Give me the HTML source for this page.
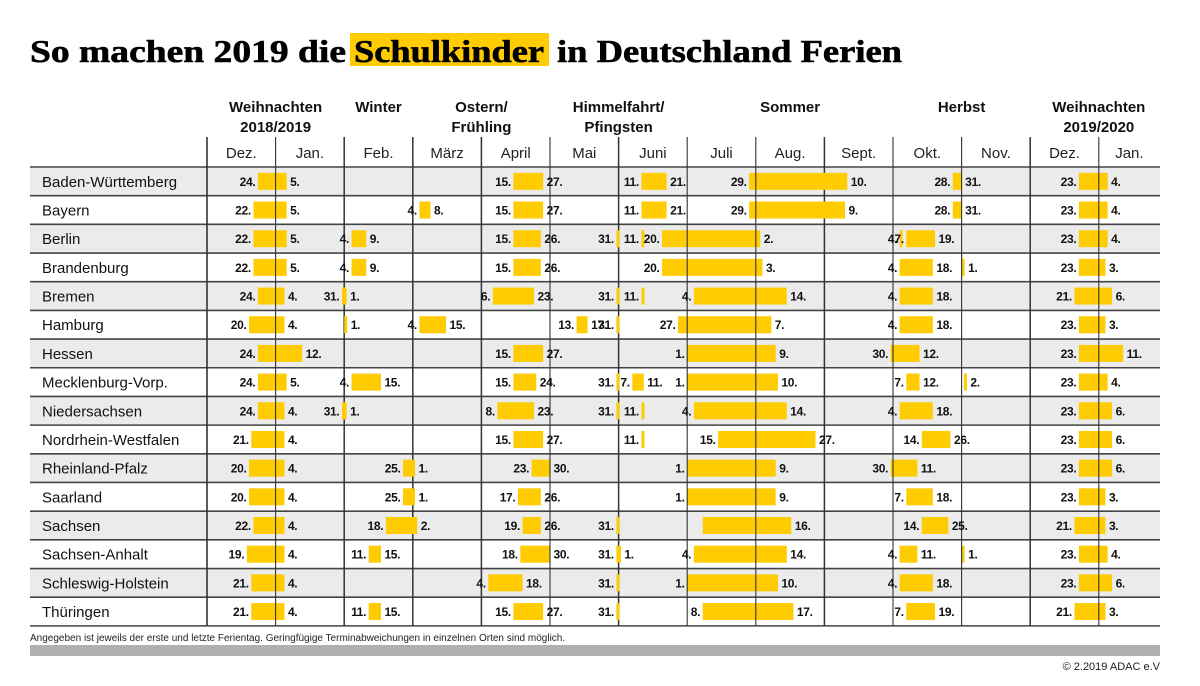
<!DOCTYPE html>
<html><head><meta charset="utf-8"><title>Schulferien 2019</title>
<style>
html,body{margin:0;padding:0;background:#fff;}
svg{display:block;}
</style></head>
<body>
<svg id="chart" width="1200" height="686" viewBox="0 0 1200 686" xmlns="http://www.w3.org/2000/svg" font-family="Liberation Sans, sans-serif">
  <rect x="350" y="33" width="199" height="33" fill="#fecc00"/>
  <text x="30" y="62" font-family="Liberation Serif, serif" font-weight="bold" font-size="32" stroke="#000" stroke-width="0.6" textLength="316" lengthAdjust="spacingAndGlyphs">So machen 2019 die</text>
  <text x="354" y="62" font-family="Liberation Serif, serif" font-weight="bold" font-size="32" stroke="#000" stroke-width="0.6" textLength="190" lengthAdjust="spacingAndGlyphs">Schulkinder</text>
  <text x="557" y="62" font-family="Liberation Serif, serif" font-weight="bold" font-size="32" stroke="#000" stroke-width="0.6" textLength="345" lengthAdjust="spacingAndGlyphs">in Deutschland Ferien</text>
  <g id="grid"></g>
  <g id="bars"></g>
  <g id="overlay"></g>
  <text x="30" y="641" font-size="10" fill="#222">Angegeben ist jeweils der erste und letzte Ferientag. Geringfügige Terminabweichungen in einzelnen Orten sind möglich.</text>
  <rect x="30" y="645" width="1130" height="11" fill="#b0b0b0"/>
  <text x="1160" y="670" font-size="11" fill="#222" text-anchor="end">© 2.2019 ADAC e.V</text>
</svg>
<script>
const months = ["Dez.","Jan.","Feb.","März","April","Mai","Juni","Juli","Aug.","Sept.","Okt.","Nov.","Dez.","Jan."];
const monthDays = [31,31,28,31,30,31,30,31,31,30,31,30,31,31];
const groupLabels = [["Weihnachten","2018/2019"],["Winter"],["Ostern/","Frühling"],["Himmelfahrt/","Pfingsten"],["Sommer"],["Herbst"],["Weihnachten","2019/2020"]];
const groupCenters = [1,2.5,4,6,8.5,11,13];
const states = ["Baden-Württemberg","Bayern","Berlin","Brandenburg","Bremen","Hamburg","Hessen","Mecklenburg-Vorp.","Niedersachsen","Nordrhein-Westfalen","Rheinland-Pfalz","Saarland","Sachsen","Sachsen-Anhalt","Schleswig-Holstein","Thüringen"];
// [startMonth, startDay, endMonth, endDay, labels] labels: "LR" both, "L" start only, "R" end only
const bw = [[0,24,1,5,"LR"],[4,15,4,27,"LR"],[6,11,6,21,"LR"],[7,29,9,10,"LR"],[10,28,10,31,"LR"],[12,23,13,4,"LR"]];
const by = [[0,22,1,5,"LR"],[3,4,3,8,"LR"],[4,15,4,27,"LR"],[6,11,6,21,"LR"],[7,29,9,9,"LR"],[10,28,10,31,"LR"],[12,23,13,4,"LR"]];
const be = [[0,22,1,5,"LR"],[2,4,2,9,"LR"],[4,15,4,26,"LR"],[5,31,5,31,"L"],[6,11,6,11,"L"],[6,20,8,2,"LR"],[10,4,10,4,"L"],[10,7,10,19,"LR"],[12,23,13,4,"LR"]];
const bb = [[0,22,1,5,"LR"],[2,4,2,9,"LR"],[4,15,4,26,"LR"],[6,20,8,3,"LR"],[10,4,10,18,"LR"],[11,1,11,1,"R"],[12,23,13,3,"LR"]];
const hb = [[0,24,1,4,"LR"],[1,31,2,1,"LR"],[4,6,4,23,"LR"],[5,31,5,31,"L"],[6,11,6,11,"L"],[7,4,8,14,"LR"],[10,4,10,18,"LR"],[12,21,13,6,"LR"]];
const hh = [[0,20,1,4,"LR"],[2,1,2,1,"R"],[3,4,3,15,"LR"],[5,13,5,17,"LR"],[5,31,5,31,"L"],[6,27,8,7,"LR"],[10,4,10,18,"LR"],[12,23,13,3,"LR"]];
const he = [[0,24,1,12,"LR"],[4,15,4,27,"LR"],[7,1,8,9,"LR"],[9,30,10,12,"LR"],[12,23,13,11,"LR"]];
const mv = [[0,24,1,5,"LR"],[2,4,2,15,"LR"],[4,15,4,24,"LR"],[5,31,5,31,"L"],[6,7,6,11,"LR"],[7,1,8,10,"LR"],[10,7,10,12,"LR"],[11,2,11,2,"R"],[12,23,13,4,"LR"]];
const ni = [[0,24,1,4,"LR"],[1,31,2,1,"LR"],[4,8,4,23,"LR"],[5,31,5,31,"L"],[6,11,6,11,"L"],[7,4,8,14,"LR"],[10,4,10,18,"LR"],[12,23,13,6,"LR"]];
const nw = [[0,21,1,4,"LR"],[4,15,4,27,"LR"],[6,11,6,11,"L"],[7,15,8,27,"LR"],[10,14,10,26,"LR"],[12,23,13,6,"LR"]];
const rp = [[0,20,1,4,"LR"],[2,25,3,1,"LR"],[4,23,4,30,"LR"],[7,1,8,9,"LR"],[9,30,10,11,"LR"],[12,23,13,6,"LR"]];
const sl = [[0,20,1,4,"LR"],[2,25,3,1,"LR"],[4,17,4,26,"LR"],[7,1,8,9,"LR"],[10,7,10,18,"LR"],[12,23,13,3,"LR"]];
const sn = [[0,22,1,4,"LR"],[2,18,3,2,"LR"],[4,19,4,26,"LR"],[5,31,5,31,"L"],[7,8,8,16,"R"],[10,14,10,25,"LR"],[12,21,13,3,"LR"]];
const st = [[0,19,1,4,"LR"],[2,11,2,15,"LR"],[4,18,4,30,"LR"],[5,31,6,1,"LR"],[7,4,8,14,"LR"],[10,4,10,11,"LR"],[11,1,11,1,"R"],[12,23,13,4,"LR"]];
const sh = [[0,21,1,4,"LR"],[4,4,4,18,"LR"],[5,31,5,31,"L"],[7,1,8,10,"LR"],[10,4,10,18,"LR"],[12,23,13,6,"LR"]];
const th = [[0,21,1,4,"LR"],[2,11,2,15,"LR"],[4,15,4,27,"LR"],[5,31,5,31,"L"],[7,8,8,17,"LR"],[10,7,10,19,"LR"],[12,21,13,3,"LR"]];
const holidays = [bw,by,be,bb,hb,hh,he,mv,ni,nw,rp,sl,sn,st,sh,th];
const majorLines = [0,2,3,4,6,9,12];

const NS = "http://www.w3.org/2000/svg";
const X0 = 207, MW = 68.6, XEND = 1160, TL = 30;
const ROW0 = 167, RH = 28.68;
function monthX(m){ return X0 + m*MW; }
function dateX(m, d, endOfDay){ return monthX(m) + (endOfDay ? d : d-1)/monthDays[m]*MW; }
function rowY(i){ return ROW0 + i*RH; }
function mk(tag, attrs, parent, txt){
  const e = document.createElementNS(NS, tag);
  for (const k in attrs) e.setAttribute(k, attrs[k]);
  if (txt !== undefined) e.textContent = txt;
  parent.appendChild(e); return e;
}
const grid = document.getElementById('grid');
const bars = document.getElementById('bars');
const overlay = document.getElementById('overlay');

groupLabels.forEach((g, i) => {
  const cx = X0 + groupCenters[i]*MW;
  g.forEach((line, j) => {
    const t = mk('text', {x: cx, y: 112 + j*20, 'text-anchor': 'middle', 'font-weight': 'bold', 'font-size': 15, fill: '#111'}, grid, line);
    
    
  });
});
months.forEach((m, i) => {
  const cx = i < 13 ? monthX(i) + MW/2 : (monthX(13) + XEND)/2;
  const t = mk('text', {x: cx, y: 158, 'text-anchor': 'middle', 'font-size': 15, fill: '#222'}, grid, m);
  
  
});
states.forEach((s, i) => {
  const y = rowY(i);
  if (i % 2 === 0) {
    const r = mk('rect', {x: TL, y: y, width: XEND-TL, height: RH, fill: '#ebebeb'}, grid);
    
    
  }
  const t = mk('text', {x: 42, y: y + RH/2 + 5.5, 'font-size': 15, fill: '#111'}, grid, s);
  
  
});
for (let i = 0; i <= states.length; i++) {
  const y = rowY(i);
  const l = mk('line', {x1: TL, x2: XEND, y1: y, y2: y, stroke: '#444', 'stroke-width': 1.6}, grid);
  
  
}
const bottom = rowY(states.length);
const lx = mk('line', {x1: X0, x2: X0, y1: 137, y2: bottom, stroke: '#333', 'stroke-width': 1.6}, grid);


for (let m = 1; m < 14; m++) {
  const x = monthX(m);
  const major = majorLines.includes(m);
  const l = mk('line', {x1: x, x2: x, y1: 137, y2: bottom, stroke: '#333', 'stroke-width': major ? 1.5 : 1.1}, major ? grid : overlay);
  
  
}
holidays.forEach((list, i) => {
  const cy = rowY(i) + RH/2;
  list.forEach(h => {
    const x1 = dateX(h[0], h[1], false);
    let x2 = dateX(h[2], h[3], true);
    if (x2 - x1 < 3) x2 = x1 + 3;
    const b = mk('rect', {x: x1, y: cy - 8.5, width: x2 - x1, height: 17, fill: '#fecc00'}, bars);
    
    
    if (h[4].includes('L')) {
      const t = mk('text', {x: x1 - 2.5, y: cy + 4.5, 'text-anchor': 'end', 'font-weight': 'bold', 'font-size': 12, 'letter-spacing': -0.3, fill: '#111'}, overlay, h[1] + '.');
      
      
    }
    if (h[4].includes('R')) {
      const t = mk('text', {x: x2 + 3.5, y: cy + 4.5, 'font-weight': 'bold', 'font-size': 12, 'letter-spacing': -0.3, fill: '#111'}, overlay, h[3] + '.');
      
      
    }
  });
});
</script>
</body></html>
